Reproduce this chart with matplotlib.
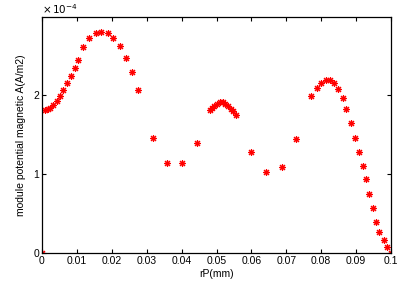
import numpy as np
import matplotlib
matplotlib.use("Agg")
import matplotlib.pyplot as plt
from matplotlib.ticker import FixedLocator, FixedFormatter

rp_mm = [0.0, 0.00095, 0.0018, 0.0024, 0.0032, 0.0042, 0.0052, 0.0061, 0.0072, 0.0082,
         0.0094, 0.0102, 0.0118, 0.0136, 0.0155, 0.0169, 0.0188, 0.0204, 0.0223, 0.0242,
         0.0258, 0.0276, 0.0317, 0.0359, 0.0400, 0.0443,
         0.0481, 0.0487, 0.0493, 0.0501, 0.0510, 0.0518, 0.0525, 0.0534, 0.0541, 0.0548, 0.0556,
         0.0600, 0.0642, 0.0687, 0.0729, 0.0772, 0.0787, 0.0798, 0.0813, 0.0824, 0.0837,
         0.0849, 0.0862, 0.0872, 0.0886, 0.0897, 0.0908, 0.0919, 0.0929, 0.0938, 0.0948,
         0.0958, 0.0966, 0.0979, 0.0989, 0.0999]
a_e4 = [0.0, 1.817, 1.826, 1.842, 1.872, 1.931, 1.986, 2.067, 2.156, 2.245,
        2.338, 2.449, 2.609, 2.719, 2.787, 2.804, 2.792, 2.723, 2.618, 2.474,
        2.291, 2.071, 1.461, 1.140, 1.135, 1.394,
        1.808, 1.842, 1.868, 1.893, 1.910, 1.910, 1.893, 1.868, 1.826, 1.795, 1.750,
        1.277, 1.027, 1.089, 1.445, 1.995, 2.088, 2.160, 2.188, 2.188, 2.154,
        2.080, 1.961, 1.823, 1.652, 1.452, 1.283, 1.105, 0.936, 0.746, 0.572,
        0.394, 0.267, 0.169, 0.080, 0.0]

x_ticks = [0, 0.01, 0.02, 0.03, 0.04, 0.05, 0.06, 0.07, 0.08, 0.09, 0.1]
x_labels = ["0", "0.01", "0.02", "0.03", "0.04", "0.05", "0.06", "0.07", "0.08", "0.09", "0.1"]
y_ticks = [0, 1, 2]
y_labels = ["0", "1", "2"]

plt.rcParams['font.family'] = ['Liberation Sans', 'DejaVu Sans']
fig = plt.figure(figsize=(4.06, 2.81), dpi=100)
ax = fig.add_axes([42/406, 1-253/281, (391-42)/406, (253-17)/281])

ax.plot(rp_mm, a_e4, linestyle='none', marker=(8, 2, 0), color='red',
        markersize=5, markeredgewidth=0.8)

ax.set_xlim(0, 0.1)
ax.set_ylim(0, 2.99)
ax.xaxis.set_major_locator(FixedLocator(x_ticks))
ax.xaxis.set_major_formatter(FixedFormatter(x_labels))
ax.yaxis.set_major_locator(FixedLocator(y_ticks))
ax.yaxis.set_major_formatter(FixedFormatter(y_labels))
ax.tick_params(direction='in', top=True, right=True, labelsize=7.5, length=3, width=0.8, pad=2)
for s in ax.spines.values():
    s.set_linewidth(0.9)

ax.set_xlabel("rP(mm)", fontsize=7.5, labelpad=2)
ax.set_ylabel("module potential magnetic A(A/m2)", fontsize=7.5, labelpad=5)
fig.text(42/406, 1-9/281, r"$\times\,10^{-4}$", fontsize=7.5, ha='left', va='center')

fig.savefig("out.png", dpi=100)
